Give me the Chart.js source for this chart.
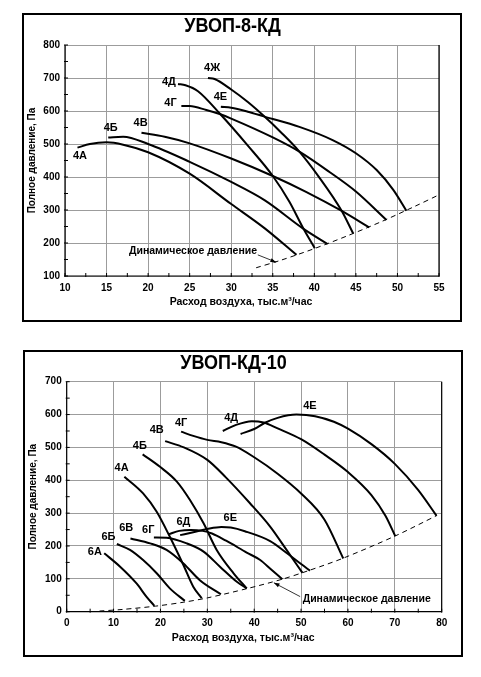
<!DOCTYPE html>
<html>
<head>
<meta charset="utf-8">
<script src="https://cdn.jsdelivr.net/npm/chart.js@4.4.0/dist/chart.umd.min.js"></script>
<style>
body { margin: 0; background: #fff; width: 481px; height: 677px; position: relative; }
.box { position: absolute; border: 2px solid #000; background: #fff; }
#box1 { left: 22px; top: 13px; width: 436px; height: 305px; }
#box2 { left: 23px; top: 350px; width: 436px; height: 303px; }
canvas { display: block; }
</style>
</head>
<body>
<div class="box" id="box1"><canvas id="chart8"></canvas></div>
<div class="box" id="box2"><canvas id="chart10"></canvas></div>
<script>
// ---- УВОП-8-КД ----
const names8 = ["4А", "4Б", "4В", "4Г", "4Д", "4Е", "4Ж"];
const flow8 = [
    [11.5, 13, 15, 17, 20, 25, 30, 34, 37.85],
    [15.2, 17, 20, 25, 30, 34, 38.7, 41.6],
    [19.2, 22, 25, 30, 35, 39, 43.3, 46.6],
    [24, 25, 27, 28.7, 30, 35, 38.2, 42, 45, 48.67],
    [23.6, 24.5, 26, 28.7, 32, 35, 37, 38.7, 40.05],
    [28.75, 30, 32, 34, 38.2, 42.2, 45, 47.5, 49.5, 51.07],
    [27.2, 28, 30, 32, 34, 36, 38.2, 40.5, 43.3, 44.67]
];
const press8 = [
    [489, 500, 505, 498, 475, 410, 318, 245, 164],
    [520, 522, 500, 446, 385, 330, 243, 197],
    [534, 522, 502, 456, 403, 355, 297, 247],
    [615, 615, 603, 590, 577, 520, 477, 412, 356, 270],
    [682, 678, 660, 590, 495, 403, 325, 243, 184],
    [613, 610, 598, 583, 552, 512, 472, 421, 361, 298],
    [700, 697, 665, 627, 583, 535, 477, 402, 297, 229]
];
const dynFlow8 = [33, 36, 40, 44, 48, 52, 55];
const dynPress8 = [125, 148, 183, 222, 264, 310, 346];
const xTicks8 = [10, 15, 20, 25, 30, 35, 40, 45, 50, 55];
const yTicks8 = [100, 200, 300, 400, 500, 600, 700, 800];
// where the curve names sit (axis units)
const labelAt8 = [[11.8, 465], [15.5, 549], [19.1, 564], [22.7, 625], [22.5, 688], [28.7, 642], [27.7, 730]];

// ---- УВОП-КД-10 ----
const names10 = ["4А", "4Б", "4В", "4Г", "4Д", "4Е", "6А", "6Б", "6В", "6Г", "6Д", "6Е"];
const flow10 = [
    [12.3, 16.3, 19.2, 22, 24.9, 27, 28.8],
    [16.2, 19.9, 23.5, 26.3, 29.2, 32, 35.6, 38.4],
    [21, 25, 30, 34, 39.1, 43.4, 46.9, 50.3],
    [24.4, 27, 30, 33, 36, 40, 45, 50, 55, 59],
    [33.3, 36, 39.5, 42, 45, 50, 55, 60, 65, 68, 70.1],
    [37.1, 40, 42.3, 45, 49, 53, 57, 60, 65, 70, 75, 78.9],
    [8, 11.4, 14.9, 17, 18.7],
    [10.7, 13.5, 16.3, 19.2, 22, 25.2],
    [13.6, 17.8, 21.3, 24.9, 28.4, 32.9],
    [18.6, 21.3, 25.6, 29.2, 32.7, 36.3, 38.4],
    [21.8, 24, 26.5, 29, 31, 34, 38.4, 41.2, 43.5, 46],
    [24.2, 27, 30, 33, 35, 38, 43.4, 47, 50, 51.9]
];
const press10 = [
    [411, 360, 304, 228, 142, 76, 41],
    [479, 441, 396, 340, 269, 188, 117, 71],
    [519, 500, 462, 408, 330, 259, 188, 118],
    [548, 535, 523, 516, 503, 470, 420, 360, 280, 162],
    [550, 568, 580, 576, 558, 525, 478, 425, 355, 292, 230],
    [541, 556, 575, 590, 600, 595, 578, 557, 510, 450, 370, 292],
    [178, 137, 86, 46, 18],
    [206, 188, 157, 117, 71, 33],
    [223, 208, 188, 147, 96, 53],
    [226, 225, 208, 183, 137, 91, 71],
    [236, 246, 249, 246, 238, 216, 180, 158, 130, 99],
    [233, 242, 252, 258, 256, 245, 215, 178, 145, 125]
];
const dynFlow10 = [7, 12, 19, 25, 30, 38.4, 46, 52, 59, 70, 79];
const dynPress10 = [2, 7, 17, 29, 42, 70, 99, 127, 163, 230, 293];
const xTicks10 = [0, 10, 20, 30, 40, 50, 60, 70, 80];
const yTicks10 = [0, 100, 200, 300, 400, 500, 600, 700];
const labelAt10 = [[11.7, 437], [15.6, 504], [19.2, 553], [24.4, 575], [35.1, 591], [51.9, 627],
                   [6.0, 183], [8.9, 228], [12.7, 254], [17.4, 249], [24.9, 274], [34.9, 284]];

Chart.defaults.font.family = "'Liberation Sans', Arial, sans-serif";
Chart.defaults.color = "#000";

const toPoints = (xs, ys) => xs.map((v, i) => ({x: v, y: ys[i]}));

// frame, inner ticks, curve names, titles
const decor = {
    id: "decor",
    afterDraw(chart, args, o) {
        const {ctx, chartArea: a, scales: {x, y}} = chart;
        ctx.save();
        ctx.strokeStyle = "#000";
        ctx.lineWidth = 1.2;
        ctx.beginPath();
        ctx.moveTo(a.left, a.top);
        ctx.lineTo(a.left, a.bottom);
        ctx.lineTo(a.right, a.bottom);
        ctx.lineTo(a.right, a.top);
        ctx.stroke();

        ctx.lineWidth = 1;
        ctx.beginPath();
        for (let v = x.min; v <= x.max; v += o.minorX) {
            const px = x.getPixelForValue(v);
            ctx.moveTo(px, a.bottom + 1);
            ctx.lineTo(px, a.bottom - 3);
        }
        for (let v = y.min; v <= y.max; v += o.minorY) {
            const py = y.getPixelForValue(v);
            ctx.moveTo(a.left - 1, py);
            ctx.lineTo(a.left + 3, py);
        }
        ctx.stroke();

        ctx.fillStyle = "#000";
        ctx.textAlign = "center";
        ctx.textBaseline = "middle";
        ctx.font = "bold 11px 'Liberation Sans', Arial";
        o.names.forEach((n, i) => {
            ctx.fillText(n, x.getPixelForValue(o.labelAt[i][0]), y.getPixelForValue(o.labelAt[i][1]));
        });
        ctx.font = "bold 10.5px 'Liberation Sans', Arial";
        ctx.fillText("Динамическое давление", x.getPixelForValue(o.noteAt[0]), y.getPixelForValue(o.noteAt[1]));

        // arrow to the dashed curve
        const x0 = x.getPixelForValue(o.arrow[0]), y0 = y.getPixelForValue(o.arrow[1]);
        const x1 = x.getPixelForValue(o.arrow[2]), y1 = y.getPixelForValue(o.arrow[3]);
        ctx.lineWidth = 0.8;
        ctx.beginPath();
        ctx.moveTo(x0, y0);
        ctx.lineTo(x1, y1);
        ctx.stroke();
        const ang = Math.atan2(y1 - y0, x1 - x0);
        ctx.beginPath();
        ctx.moveTo(x1, y1);
        ctx.lineTo(x1 - 6 * Math.cos(ang - 0.35), y1 - 6 * Math.sin(ang - 0.35));
        ctx.lineTo(x1 - 6 * Math.cos(ang + 0.35), y1 - 6 * Math.sin(ang + 0.35));
        ctx.closePath();
        ctx.fill();

        // title, a little taller than wide as in the scan
        ctx.save();
        ctx.translate(o.titleX, o.titleY);
        ctx.scale(1, 1.15);
        ctx.font = "bold 18px 'Liberation Sans', Arial";
        ctx.fillText(o.title, 0, 0);
        ctx.restore();

        ctx.font = "bold 10.5px 'Liberation Sans', Arial";
        ctx.fillText("Расход воздуха, тыс.м³/час", (a.left + a.right) / 2 - 11, a.bottom + 26);
        ctx.font = "bold 10px 'Liberation Sans', Arial";
        ctx.translate(8, (a.top + a.bottom) / 2);
        ctx.rotate(-Math.PI / 2);
        ctx.fillText("Полное давление, Па", 0, 0);
        ctx.restore();
    }
};

function makeChart(id, names, flows, presses, dynX, dynY, xt, yt, extra) {
    const sets = names.map((n, i) => ({
        label: n,
        data: toPoints(flows[i], presses[i]),
        borderColor: "#000",
        borderWidth: 2,
        showLine: true,
        pointRadius: 0,
        cubicInterpolationMode: "monotone"
    }));
    sets.push({
        label: "Динамическое давление",
        data: toPoints(dynX, dynY),
        borderColor: "#000",
        borderWidth: 1,
        borderDash: [5, 4],
        showLine: true,
        pointRadius: 0,
        tension: 0.3
    });
    return new Chart(document.getElementById(id), {
        type: "scatter",
        data: {datasets: sets},
        options: {
            responsive: true,
            maintainAspectRatio: false,
            animation: false,
            layout: {padding: {left: 0, right: extra.padRight, top: extra.padTop, bottom: 0}},
            plugins: {
                legend: {display: false},
                tooltip: {enabled: false},
                decor: extra.decor
            },
            scales: {
                x: {
                    type: "linear",
                    min: xt[0],
                    max: xt[xt.length - 1],
                    afterBuildTicks: s => { s.ticks = xt.map(v => ({value: v})); },
                    afterFit: s => { s.height = extra.xHeight; },
                    grid: {color: "#9c9c9c", lineWidth: 1, drawTicks: false},
                    border: {display: false},
                    ticks: {font: {size: 10, weight: "bold"}, padding: 6, maxRotation: 0}
                },
                y: {
                    type: "linear",
                    min: yt[0],
                    max: yt[yt.length - 1],
                    afterBuildTicks: s => { s.ticks = yt.map(v => ({value: v})); },
                    afterFit: s => { s.width = extra.yWidth; },
                    grid: {color: "#9c9c9c", lineWidth: 1, drawTicks: false},
                    border: {display: false},
                    ticks: {font: {size: 10, weight: "bold"}, padding: 5}
                }
            }
        },
        plugins: [decor]
    });
}

makeChart("chart8", names8, flow8, press8, dynFlow8, dynPress8, xTicks8, yTicks8, {
    padRight: 21, padTop: 30, xHeight: 44, yWidth: 41,
    decor: {
        names: names8, labelAt: labelAt8, noteAt: [25.4, 176], arrow: [33.2, 164, 35.4, 142],
        minorX: 2.5, minorY: 50, title: "УВОП-8-КД", titleX: 208.5, titleY: 11
    }
});

makeChart("chart10", names10, flow10, press10, dynFlow10, dynPress10, xTicks10, yTicks10, {
    padRight: 19.3, padTop: 29.7, xHeight: 43.3, yWidth: 41.7,
    decor: {
        names: names10, labelAt: labelAt10, noteAt: [64, 38], arrow: [49.8, 46, 44.2, 88],
        minorX: 5, minorY: 50, title: "УВОП-КД-10", titleX: 208.5, titleY: 11
    }
});
</script>
</body>
</html>
